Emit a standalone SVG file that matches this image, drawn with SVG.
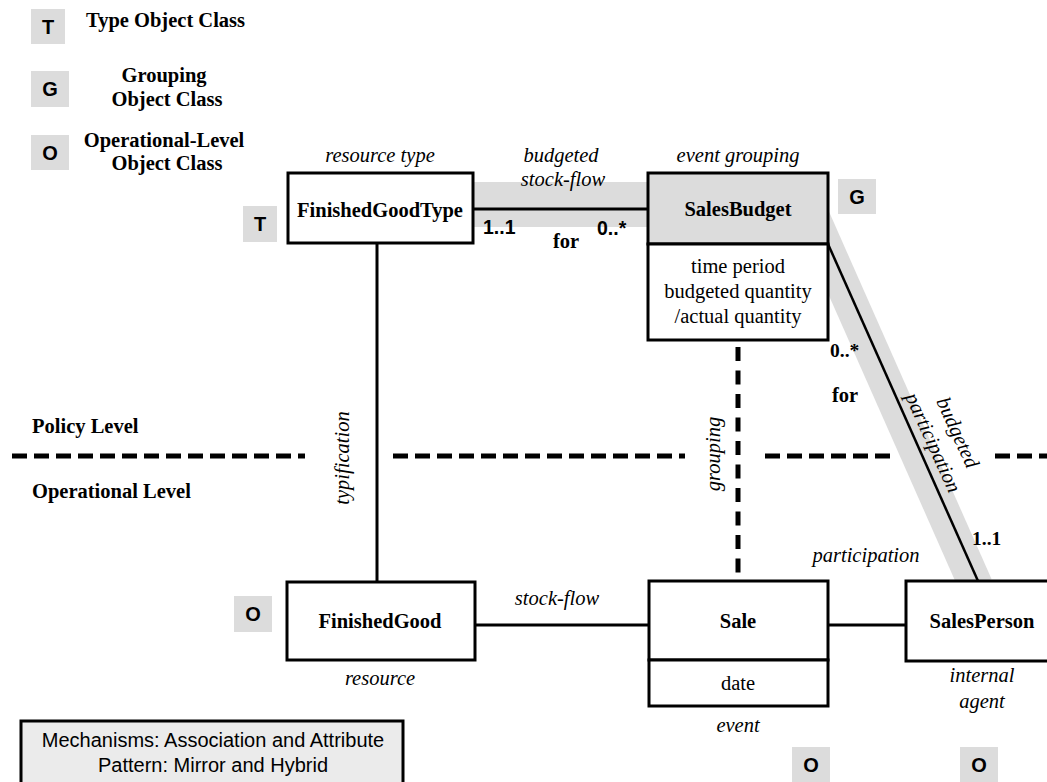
<svg xmlns="http://www.w3.org/2000/svg" width="1047" height="782" viewBox="0 0 1047 782">
  <style>
    .box { fill: #ffffff; stroke: #000000; stroke-width: 3; }
    .hdr { fill: #dcdcdc; stroke: #000000; stroke-width: 3; }
    .badge { fill: #dcdcdc; }
    .badge-t { font-family: "Liberation Sans", Arial, sans-serif; font-weight: bold; font-size: 20px; text-anchor: middle; fill: #000; }
    .name { font-family: "Liberation Serif", "Times New Roman", serif; font-weight: bold; font-size: 20.5px; text-anchor: middle; fill: #000; }
    .attr { font-family: "Liberation Serif", "Times New Roman", serif; font-size: 20.5px; text-anchor: middle; fill: #000; }
    .role { font-family: "Liberation Serif", "Times New Roman", serif; font-style: italic; font-size: 20.5px; text-anchor: middle; fill: #000; }
    .lvl { font-family: "Liberation Serif", "Times New Roman", serif; font-weight: bold; font-size: 20.5px; fill: #000; }
    .mult { font-family: "Liberation Sans", Arial, sans-serif; font-weight: bold; font-size: 19.5px; fill: #000; }
    .multb { font-family: "Liberation Serif", "Times New Roman", serif; font-weight: bold; font-size: 19.5px; fill: #000; }
    .solid { stroke: #000; stroke-width: 3; fill: none; }
    .dash { stroke: #000; stroke-width: 5; stroke-dasharray: 15 7; fill: none; }
    .vdash { stroke: #000; stroke-width: 5; stroke-dasharray: 14 9.5; fill: none; }
    .band { stroke: #dcdcdc; fill: none; }
    .note { font-family: "Liberation Sans", Arial, sans-serif; font-size: 20px; text-anchor: middle; fill: #000; }
  </style>

  <!-- legend -->
  <g id="legend">
    <rect class="badge" x="31" y="9" width="34" height="35"/>
    <text class="badge-t" x="48" y="34">T</text>
    <text class="lvl" x="86" y="27">Type Object Class</text>

    <rect class="badge" x="31" y="71" width="38" height="36"/>
    <text class="badge-t" x="50" y="96">G</text>
    <text class="lvl" x="164" y="82" text-anchor="middle">Grouping</text>
    <text class="lvl" x="167" y="106" text-anchor="middle">Object Class</text>

    <rect class="badge" x="31" y="135" width="38" height="35"/>
    <text class="badge-t" x="50" y="160">O</text>
    <text class="lvl" x="164" y="147" text-anchor="middle">Operational-Level</text>
    <text class="lvl" x="167" y="170" text-anchor="middle">Object Class</text>
  </g>

  <!-- level separator -->
  <g id="levels">
    <text class="lvl" x="32" y="433">Policy Level</text>
    <text class="lvl" x="32" y="498">Operational Level</text>
    <line class="dash" x1="12" y1="456" x2="305" y2="456"/>
    <line class="dash" x1="393" y1="456" x2="685" y2="456"/>
    <line class="dash" x1="765" y1="456" x2="892" y2="456"/>
    <line class="dash" x1="995" y1="456" x2="1047" y2="456"/>
  </g>

  <!-- connectors -->
  <g id="connectors">
    <!-- budgeted stock-flow highlight and association -->
    <rect x="473" y="182" width="177" height="45" fill="#dcdcdc"/>
    <line class="solid" x1="473" y1="209" x2="649" y2="209"/>
    <!-- budgeted participation highlight and association -->
    <line class="band" stroke-width="34" x1="811" y1="213" x2="976" y2="586"/>
    <line stroke="#000" stroke-width="2.5" x1="828" y1="244" x2="978" y2="581"/>
    <!-- typification -->
    <line class="solid" x1="377" y1="243" x2="377" y2="582"/>
    <!-- grouping -->
    <line class="vdash" x1="738" y1="347" x2="738" y2="581"/>
    <!-- stock-flow -->
    <line class="solid" x1="475" y1="625" x2="649" y2="625"/>
    <!-- participation -->
    <line class="solid" x1="828" y1="625" x2="906" y2="625"/>

    <text class="role" x="561" y="162">budgeted</text>
    <text class="role" x="563" y="186">stock-flow</text>
    <text class="mult" x="483" y="234">1..1</text>
    <text class="lvl" x="553" y="248">for</text>
    <text class="mult" x="597" y="235">0..*</text>

    <text class="multb" x="830" y="357">0..*</text>
    <text class="lvl" x="832" y="402">for</text>
    <text class="multb" x="972" y="545">1..1</text>
    <g transform="translate(917,440) rotate(65.6)">
      <text class="role" x="9" y="-7">participation</text>
      <text class="role" x="10" y="-33.5">budgeted</text>
    </g>

    <text class="role" transform="translate(349,458) rotate(-90)" x="0" y="0">typification</text>
    <text class="role" transform="translate(720,454) rotate(-90)" x="0" y="0">grouping</text>

    <text class="role" x="557" y="605">stock-flow</text>
    <text class="role" x="866" y="562">participation</text>
  </g>

  <!-- FinishedGoodType -->
  <g id="finished-good-type">
    <text class="role" x="380" y="162">resource type</text>
    <rect class="box" x="288" y="173" width="185" height="70"/>
    <text class="name" x="380" y="217">FinishedGoodType</text>
    <rect class="badge" x="243" y="206" width="34" height="36"/>
    <text class="badge-t" x="260" y="231">T</text>
  </g>

  <!-- SalesBudget -->
  <g id="sales-budget">
    <text class="role" x="738" y="162">event grouping</text>
    <rect class="hdr" x="648" y="173" width="180" height="71"/>
    <rect class="box" x="648" y="244" width="180" height="96"/>
    <text class="name" x="738" y="216">SalesBudget</text>
    <text class="attr" x="738" y="273">time period</text>
    <text class="attr" x="738" y="298">budgeted quantity</text>
    <text class="attr" x="738" y="323">/actual quantity</text>
    <rect class="badge" x="838" y="179" width="38" height="35"/>
    <text class="badge-t" x="857" y="204">G</text>
  </g>

  <!-- FinishedGood -->
  <g id="finished-good">
    <rect class="box" x="287" y="582" width="188" height="78"/>
    <text class="name" x="380" y="628">FinishedGood</text>
    <text class="role" x="380" y="685">resource</text>
    <rect class="badge" x="234" y="596" width="38" height="36"/>
    <text class="badge-t" x="253" y="621">O</text>
  </g>

  <!-- Sale -->
  <g id="sale">
    <rect class="box" x="649" y="581" width="179" height="79"/>
    <rect class="box" x="649" y="660" width="179" height="46"/>
    <text class="name" x="738" y="628">Sale</text>
    <text class="attr" x="738" y="690">date</text>
    <text class="role" x="738" y="732">event</text>
    <rect class="badge" x="792" y="747" width="38" height="36"/>
    <text class="badge-t" x="811" y="772">O</text>
  </g>

  <!-- SalesPerson -->
  <g id="sales-person">
    <rect class="box" x="906" y="581" width="150" height="80"/>
    <text class="name" x="982" y="628">SalesPerson</text>
    <text class="role" x="982" y="682">internal</text>
    <text class="role" x="982" y="708">agent</text>
    <rect class="badge" x="960" y="747" width="38" height="36"/>
    <text class="badge-t" x="979" y="772">O</text>
  </g>

  <!-- note -->
  <g id="note">
    <rect x="21" y="721" width="382" height="75" fill="#ebebeb" stroke="#000" stroke-width="3"/>
    <text class="note" x="213" y="747">Mechanisms: Association and Attribute</text>
    <text class="note" x="213" y="772">Pattern: Mirror and Hybrid</text>
  </g>
</svg>
